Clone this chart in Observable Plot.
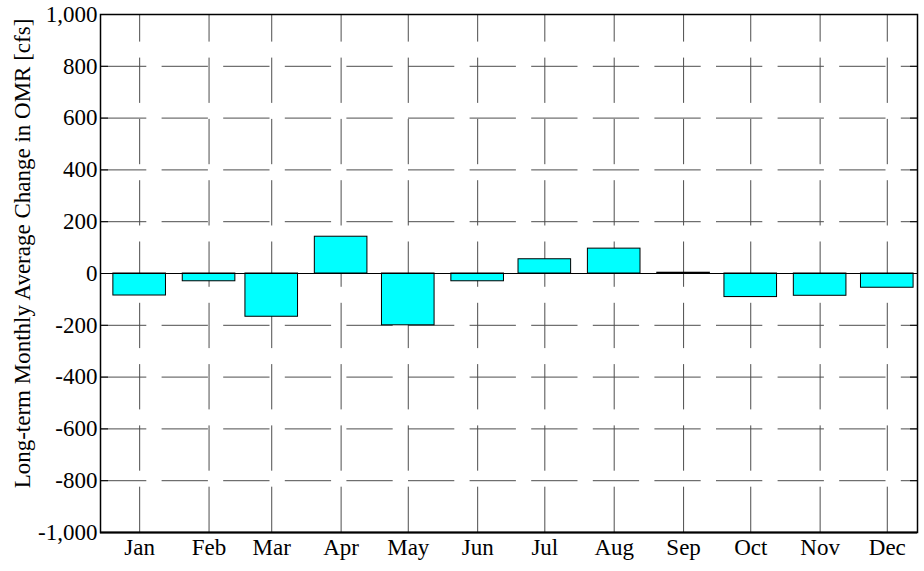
<!DOCTYPE html>
<html><head><meta charset="utf-8">
<script src="https://cdn.jsdelivr.net/npm/d3@7"></script>
<script src="https://cdn.jsdelivr.net/npm/@observablehq/plot@0.6"></script>
<style>body{margin:0;background:#fff}</style>
</head><body><div id="chart"></div>
<script>
const months = ["Jan","Feb","Mar","Apr","May","Jun","Jul","Aug","Sep","Oct","Nov","Dec"];
const values = [-85, -30, -167, 142, -200, -30, 55, 96, 3, -91, -86, -55];
const yTicks = [-1000, -800, -600, -400, -200, 0, 200, 400, 600, 800, 1000];
const yLabel = "Long-term Monthly Average Change in OMR [cfs]";

const DAY = 864e5;
const x0 = new Date(Date.UTC(2001, 0, 1)), x1 = new Date(Date.UTC(2002, 0, 1));
const data = months.map((m, i) => ({month: m, value: values[i], date: new Date(Date.UTC(2001, i, 18, 12))}));
const half = 11.75 * DAY;
const font = "'Liberation Serif','Times New Roman',serif";
const fmt = d => (d < 0 ? "-" : "") + d3.format(",")(Math.abs(d));

const chart = Plot.plot({
  width: 924, height: 571,
  marginLeft: 100, marginTop: 14, marginRight: 7, marginBottom: 39,
  style: {fontFamily: font, fontSize: "23px", color: "black", background: "white"},
  x: {type: "utc", domain: [x0, x1]},
  y: {domain: [-1000, 1000]},
  marks: [
    Plot.ruleY(yTicks.filter(d => Math.abs(d) < 1000 && d !== 0), {x1: () => x0, x2: () => x1, stroke: "#4d4d4d", strokeWidth: 1, strokeDasharray: "46.3,15.3"}),
    Plot.ruleX(data, {x: "date", y1: -1000, y2: 1000, stroke: "#4d4d4d", strokeWidth: 1, strokeDasharray: "45.3,16"}),
    Plot.rect(data, {x1: d => new Date(+d.date - half), x2: d => new Date(+d.date + half), y1: 0, y2: "value", fill: "#00ffff", stroke: "black", strokeWidth: 1}),
    Plot.ruleY([0], {stroke: "black", strokeWidth: 1.2}),
    Plot.axisY(yTicks, {anchor: "left", tickSize: 0, tickPadding: 3, fontSize: 23, tickFormat: fmt, label: null}),
    Plot.axisY(yTicks, {anchor: "left", tickSize: -8, text: null, label: null, stroke: "black"}),
    Plot.axisY(yTicks, {anchor: "right", tickSize: -8, text: null, label: null, stroke: "black"}),
    Plot.axisX(data.map(d => d.date), {anchor: "bottom", tickSize: 0, tickPadding: 6, fontSize: 23, tickFormat: d => months[d.getUTCMonth()], label: null}),
    Plot.frame({stroke: "black", strokeWidth: 1.5}),
    Plot.ruleY([-1000], {stroke: "black", strokeWidth: 2.2}),
    Plot.text([yLabel], {text: d => d, frameAnchor: "left", textAnchor: "middle", lineAnchor: "middle", rotate: -90, dx: -78, dy: -20, fontSize: 23, fill: "black"})
  ]
});
document.getElementById("chart").appendChild(chart);
</script>
</body></html>
